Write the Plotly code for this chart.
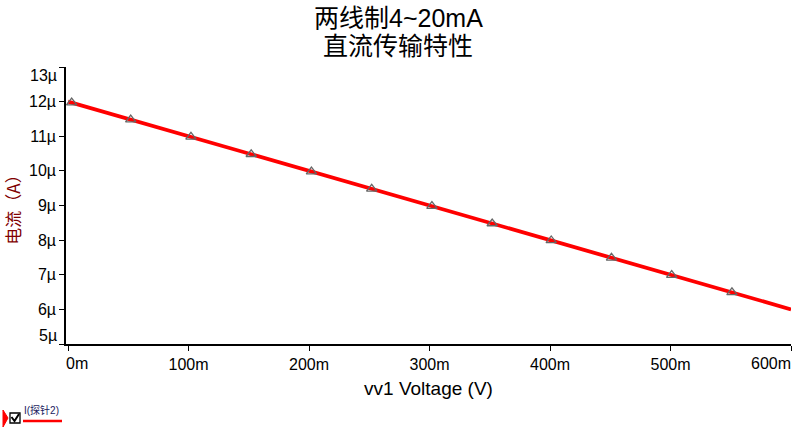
import plotly.graph_objects as go

# ---- data ----
line_v = [0.0, 0.6]                 # V
line_i = [12e-6, 6e-6]              # A
marker_v = [0.003, 0.052, 0.102, 0.152, 0.202, 0.252, 0.302, 0.352, 0.401, 0.451, 0.501, 0.551]
marker_i = [11.97e-6, 11.48e-6, 10.98e-6, 10.48e-6, 9.98e-6, 9.48e-6,
            8.98e-6, 8.48e-6, 7.99e-6, 7.49e-6, 6.99e-6, 6.49e-6]
x_tickvals = [0, 0.1, 0.2, 0.3, 0.4, 0.5, 0.6]
x_ticktext = ["0m", "100m", "200m", "300m", "400m", "500m", "600m"]
y_tickvals = [5e-6, 6e-6, 7e-6, 8e-6, 9e-6, 10e-6, 11e-6, 12e-6, 13e-6]
y_ticktext = ["5µ", "6µ", "7µ", "8µ", "9µ", "10µ", "11µ", "12µ", "13µ"]
title_lines = ["两线制4~20mA", "直流传输特性"]
x_title = "vv1 Voltage (V)"
y_title = "电流（A）"
legend_name = "I(探针2)"

FONT = "Liberation Sans, Arial, Noto Sans CJK SC, sans-serif"
W, H = 795, 436
L, R, T, B = 66, 4, 67, 92
PW, PH = W - L - R, H - T - B
XR = [-0.0017, 0.6]
YR = [5e-6, 13e-6]

def px(x):
    return (x - L) / PW

def py(y):
    return (H - B - y) / PH

fig = go.Figure()
fig.add_trace(go.Scatter(x=line_v, y=line_i, mode="lines",
                         line=dict(color="#ff0000", width=3.8),
                         name=legend_name, showlegend=False, cliponaxis=False))
fig.add_trace(go.Scatter(x=marker_v, y=marker_i, mode="markers",
                         marker=dict(symbol="triangle-up-open", size=9,
                                     color="#666666", line=dict(width=1.3)),
                         showlegend=False, hoverinfo="skip", cliponaxis=False))

# inner tick labels shown through the axes; the edge labels are placed inward, as in the reference
x_inner_text = ["" if v in (x_tickvals[0], x_tickvals[-1]) else t for v, t in zip(x_tickvals, x_ticktext)]
y_inner_text = ["" if v in (y_tickvals[0], y_tickvals[-1]) else t for v, t in zip(y_tickvals, y_ticktext)]

fig.update_layout(
    width=W, height=H,
    margin=dict(l=L, r=R, t=T, b=B, autoexpand=False),
    paper_bgcolor="white", plot_bgcolor="white",
    font=dict(family=FONT, color="black"),
    xaxis=dict(range=XR, tickvals=x_tickvals, ticktext=x_inner_text, automargin=False,
               showgrid=False, zeroline=False, showline=True, linecolor="black",
               linewidth=1.5, ticks="outside", ticklen=5, tickcolor="black",
               tickfont=dict(size=16, family=FONT),
               title=dict(text=x_title, font=dict(size=19, family=FONT), standoff=10)),
    yaxis=dict(range=YR, tickvals=y_tickvals, ticktext=y_inner_text, automargin=False,
               showgrid=False, zeroline=False, showline=True, linecolor="black",
               linewidth=1.5, ticks="outside", ticklen=5, tickcolor="black",
               tickfont=dict(size=16, family=FONT),
               title=dict(text=y_title, font=dict(size=17, color="#800000",
                                                  family="Noto Sans CJK SC, sans-serif"),
                          standoff=6)),
)

# edge tick labels
fig.add_annotation(text=x_ticktext[0], x=x_tickvals[0], xref="x", y=0, yref="paper",
                   xanchor="left", yanchor="top", yshift=-9, xshift=-4, showarrow=False,
                   font=dict(size=16, family=FONT))
fig.add_annotation(text=x_ticktext[-1], x=x_tickvals[-1], xref="x", y=0, yref="paper",
                   xanchor="right", yanchor="top", yshift=-9, xshift=2, showarrow=False,
                   font=dict(size=16, family=FONT))
fig.add_annotation(text=y_ticktext[0], x=0, xref="paper", y=y_tickvals[0], yref="y",
                   xanchor="right", yanchor="bottom", xshift=-7, yshift=-2, showarrow=False,
                   font=dict(size=16, family=FONT))
fig.add_annotation(text=y_ticktext[-1], x=0, xref="paper", y=y_tickvals[-1], yref="y",
                   xanchor="right", yanchor="top", xshift=-7, yshift=2, showarrow=False,
                   font=dict(size=16, family=FONT))

# title (two lines)
for text, ypix in zip(title_lines, [18, 46]):
    fig.add_annotation(text=text, xref="paper", yref="paper", x=px(398), y=py(ypix),
                       xanchor="center", yanchor="middle", showarrow=False,
                       font=dict(size=25, color="black",
                                 family="Liberation Sans, Noto Sans CJK SC, sans-serif"))

# legend-like key at the bottom-left
shapes = [
    dict(type="path", xref="paper", yref="paper",
         path=f"M {px(3)} {py(410)} L {px(8)} {py(418)} L {px(3)} {py(427)} Z",
         fillcolor="#ff0000", line=dict(color="#ff0000", width=1)),
    dict(type="rect", xref="paper", yref="paper",
         x0=px(10), x1=px(20), y0=py(423), y1=py(413),
         line=dict(color="black", width=1.3), fillcolor="white"),
    dict(type="path", xref="paper", yref="paper",
         path=f"M {px(11.5)} {py(417)} L {px(14.5)} {py(421)} L {px(19)} {py(414)}",
         line=dict(color="black", width=2)),
    dict(type="line", xref="paper", yref="paper",
         x0=px(23), x1=px(62), y0=py(421), y1=py(421),
         line=dict(color="#ff0000", width=2.5)),
]
fig.update_layout(shapes=shapes)
fig.add_annotation(text=legend_name, xref="paper", yref="paper",
                   x=px(22), y=py(410), xanchor="left", yanchor="middle",
                   showarrow=False,
                   font=dict(size=10, color="#1a1a60",
                             family="Liberation Sans, Noto Sans CJK SC, sans-serif"))

fig.write_html("out.html", config={"displayModeBar": False},
               post_script="document.body.style.margin='0';document.body.style.overflow='hidden';")
